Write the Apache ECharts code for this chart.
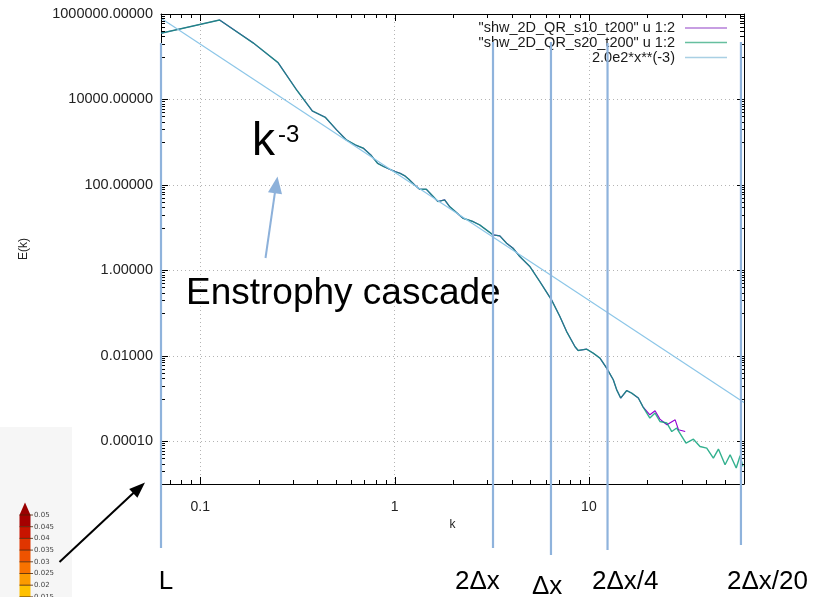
<!DOCTYPE html>
<html><head><meta charset="utf-8">
<script src="https://cdn.jsdelivr.net/npm/echarts@6/dist/echarts.min.js"></script>
<style>html,body{margin:0;padding:0;background:#fff}#c{width:814px;height:597px}</style>
</head><body><div id="c"></div>
<script>
// ---------- data ----------
const kCommon = [0.0628, 0.1257, 0.1885, 0.2513, 0.3142, 0.377, 0.44, 0.503, 0.565, 0.628, 0.691, 0.754, 0.817, 0.88, 0.942, 1.005, 1.068, 1.131, 1.194, 1.268, 1.346, 1.457, 1.672, 1.81, 1.92, 2.25, 2.53, 2.74, 3.21, 3.48, 3.77, 4.07, 4.41, 4.97, 5.59, 6.42, 7.09, 7.68, 8.47, 8.81, 9.73, 10.52, 11.4, 12.34, 13.35, 13.9, 14.57, 15.65, 16.6, 17.96, 18.98];
const eCommon = [3.54e5, 7.24e5, 2.06e5, 7.26e4, 1.64e4, 5.4e3, 3.83e3, 1.94e3, 1130, 863, 721, 503, 321, 268, 233, 205, 187, 162, 131, 100, 79.3, 79, 40.7, 44.6, 31, 16.6, 13.9, 11.6, 6.76, 6.41, 4.32, 3.30, 2.10, 1.23, 0.547, 0.204, 0.083, 0.037, 0.0165, 0.0133, 0.01436, 0.01156, 0.00883, 0.00515, 0.00275, 0.0016, 0.001026, 0.00154, 0.00134, 0.00103, 0.00064];
const kTail10 = [20.6, 21.9, 23.2, 25.2, 27.8, 28.9, 31.3];
const eTail10 = [4.17e-4, 5.17e-4, 3.3e-4, 2.43e-4, 3.18e-4, 1.86e-4, 1.69e-4];
const kTail20 = [20.6, 21.9, 23.2, 25.2, 26.7, 28.3, 31.6, 34.5, 37.3, 40.4, 43.7, 46.4, 50.2, 53.3, 57.3, 60.0, 62.0];
const eTail20 = [3.49e-4, 4.57e-4, 2.9e-4, 2.67e-4, 1.69e-4, 2.04e-4, 9.08e-5, 1.12e-4, 7.55e-5, 6.93e-5, 4.05e-5, 6.56e-5, 2.82e-5, 4.83e-5, 2.36e-5, 4.58e-5, 2.58e-5];
const kRef = [0.0628, 62.83];
const eRef = [8.0e5, 8.1e-4];
const seriesNames = ['"shw_2D_QR_s10_t200" u 1:2', '"shw_2D_QR_s20_t200" u 1:2', '2.0e2*x**(-3)'];
const xMajor = [0.1, 1, 10];
const xMinor = [0.07, 0.08, 0.09, 0.2, 0.3, 0.4, 0.5, 0.6, 0.7, 0.8, 0.9, 2, 3, 4, 5, 6, 7, 8, 9, 20, 30, 40, 50, 60];
const yMajor = [1e-4, 1e-2, 1, 1e2, 1e4, 1e6];
const yMinorFactors = [0.1, 0.2, 0.3, 0.4, 0.5, 0.6, 0.7, 0.8, 0.9];
const annotK = [0.0628, 3.21, 6.38, 12.47, 60.6];
const annotLabels = ['L', '2Δx', 'Δx', '2Δx/4', '2Δx/20'];
const colorbarLabels = ['0.05', '0.045', '0.04', '0.035', '0.03', '0.025', '0.02', '0.015'];

// ---------- build ----------
const FONT = '"Liberation Sans", Arial, sans-serif';
const zip = (a, b) => a.map((v, i) => [v, b[i]]);
const data10 = zip(kCommon, eCommon).concat(zip(kTail10, eTail10));
const data20 = zip(kCommon, eCommon).concat(zip(kTail20, eTail20));

function isIntExp(v) { const e = Math.log10(v); return Math.abs(e - Math.round(e)) < 1e-6 ? Math.round(e) : null; }
function fmtX(v) { const e = isIntExp(v); return e === null ? '' : String(Math.pow(10, e)); }
function fmtY(v) { const e = isIntExp(v); if (e === null || e % 2 !== 0) return ''; return Math.pow(10, e).toFixed(5); }

const chart = echarts.init(document.getElementById('c'), null, { renderer: 'canvas' });
const gridLine = { show: true, lineStyle: { color: '#b4b4b4', width: 1, type: [1, 3] } };
const legendColors = ['#b57ed8', '#66bf9f', '#a9d0e4'];
const legendTops = [20.5, 35, 50];
const GRID = { left: 161, right: 70, top: 14, bottom: 113 };

chart.setOption({
  animation: false,
  backgroundColor: '#fff',
  grid: Object.assign({ containLabel: false }, GRID),
  legend: seriesNames.map((n, i) => ({
    data: [{ name: n, itemStyle: { color: legendColors[i] } }],
    right: 87, top: legendTops[i], orient: 'vertical', align: 'right', icon: 'rect',
    itemWidth: 42, itemHeight: 1.5, padding: 0, selectedMode: false,
    textStyle: { fontSize: 14.5, color: '#1a1a1a', fontFamily: FONT, padding: [0, 5, 0, 0] }
  })),
  xAxis: [{
    type: 'log', logBase: 10, min: 0.0628, max: 62.83, position: 'bottom',
    axisLine: { show: true, onZero: false, lineStyle: { color: '#000', width: 1 } },
    axisTick: { show: false }, minorTick: { show: false }, splitLine: gridLine,
    axisLabel: { formatter: fmtX, margin: 16, fontSize: 14, color: '#222', fontFamily: FONT },
    name: 'k', nameLocation: 'middle', nameGap: 33,
    nameTextStyle: { fontSize: 12, color: '#222', fontFamily: FONT }
  }, {
    type: 'log', logBase: 10, min: 0.0628, max: 62.83, position: 'top',
    axisLine: { show: true, onZero: false, lineStyle: { color: '#000', width: 1 } },
    axisTick: { show: false }, axisLabel: { show: false }, splitLine: { show: false }
  }],
  yAxis: [{
    type: 'log', logBase: 100, min: 1e-5, max: 1e6, position: 'left',
    axisLine: { show: true, onZero: false, lineStyle: { color: '#000', width: 1 } },
    axisTick: { show: false }, minorTick: { show: false }, splitLine: gridLine,
    axisLabel: { formatter: fmtY, margin: 8, fontSize: 14.5, color: '#222', fontFamily: FONT },
    name: 'E(k)', nameLocation: 'middle', nameGap: 131,
    nameTextStyle: { fontSize: 12, color: '#222', fontFamily: FONT }
  }, {
    type: 'log', logBase: 100, min: 1e-5, max: 1e6, position: 'right',
    axisLine: { show: true, onZero: false, lineStyle: { color: '#000', width: 1 } },
    axisTick: { show: false }, axisLabel: { show: false }, splitLine: { show: false }
  }],
  series: [
    { name: seriesNames[0], type: 'line', data: data10, showSymbol: false, symbol: 'none',
      lineStyle: { color: '#9400d3', width: 1.1 }, itemStyle: { color: '#9400d3' }, z: 2 },
    { name: seriesNames[1], type: 'line', data: data20, showSymbol: false, symbol: 'none',
      lineStyle: { color: 'rgba(0,158,115,0.8)', width: 1.4 }, itemStyle: { color: '#009e73' }, z: 3 },
    { name: seriesNames[2], type: 'line', data: zip(kRef, eRef), showSymbol: false, symbol: 'none',
      lineStyle: { color: '#8cc6e8', width: 1.2 }, itemStyle: { color: '#8cc6e8' }, z: 4 }
  ]
});

// ---------- axis tick marks (gnuplot style: inward, mirrored) ----------
const G = [];
const Z = 100;
const gx0 = GRID.left, gx1 = 814 - GRID.right, gy0 = GRID.top, gy1 = 597 - GRID.bottom;
function tick(x1, y1, x2, y2) {
  G.push({ type: 'line', z: 60, silent: true, shape: { x1: x1, y1: y1, x2: x2, y2: y2 }, style: { stroke: '#000', lineWidth: 1 } });
}
function xTick(v, len) {
  const x = Math.round(chart.convertToPixel({ xAxisIndex: 0 }, v)) + 0.5;
  tick(x, gy1, x, gy1 - len);
  tick(x, gy0, x, gy0 + len);
}
function yTick(v, len) {
  const y = Math.round(chart.convertToPixel({ yAxisIndex: 0 }, v)) + 0.5;
  tick(gx0, y, gx0 + len, y);
  tick(gx1, y, gx1 - len, y);
}
xMajor.forEach(v => xTick(v, 7));
xMinor.forEach(v => xTick(v, 4));
yMajor.forEach(M => { yTick(M, 7); yMinorFactors.forEach(f => yTick(M * f, 4)); });

// ---------- annotations ----------
G.push({ type: 'rect', z: Z, shape: { x: 0, y: 427, width: 72, height: 170 }, style: { fill: '#f6f6f6' } });
const cbColors = ['#a50000', '#c81400', '#e03500', '#ee5300', '#f87200', '#fc9a00', '#ffc000', '#ffda00'];
const cbTop = 515, cbStep = 11.7;
G.push({ type: 'polygon', z: Z, shape: { points: [[19.5, cbTop], [25, 502.5], [30.5, cbTop]] }, style: { fill: '#9a0000' } });
colorbarLabels.forEach((lab, i) => {
  const y = cbTop + i * cbStep;
  G.push({ type: 'rect', z: Z, shape: { x: 19.5, y: y, width: 11, height: cbStep }, style: { fill: cbColors[i] } });
});
colorbarLabels.forEach((lab, i) => {
  const y = cbTop + i * cbStep;
  G.push({ type: 'line', z: Z + 1, shape: { x1: 19.5, y1: y, x2: 33, y2: y }, style: { stroke: '#4a2000', lineWidth: 0.8 } });
  G.push({ type: 'text', z: Z + 1, style: { text: lab, x: 34, y: y, font: '7px "DejaVu Sans"', fill: '#444', verticalAlign: 'middle' } });
});
// black arrow
G.push({ type: 'line', z: Z, shape: { x1: 59.5, y1: 562, x2: 135, y2: 491.5 }, style: { stroke: '#000', lineWidth: 2 } });
G.push({ type: 'polygon', z: Z, shape: { points: [[145, 482.5], [137.4, 497.8], [129.2, 489.0]] }, style: { fill: '#000' } });
// blue arrow
G.push({ type: 'line', z: Z, shape: { x1: 265.5, y1: 258, x2: 275, y2: 192 }, style: { stroke: '#8db1da', lineWidth: 2 } });
G.push({ type: 'polygon', z: Z, shape: { points: [[277.5, 176.5], [282, 194.3], [268, 192.3]] }, style: { fill: '#8db1da' } });
// texts
G.push({ type: 'text', z: Z, style: { text: 'k', x: 252, y: 142.4, font: '46px ' + FONT, fill: '#000', verticalAlign: 'middle' } });
G.push({ type: 'text', z: Z, style: { text: '-3', x: 278, y: 135, font: '24px ' + FONT, fill: '#000', verticalAlign: 'middle' } });
G.push({ type: 'text', z: Z, style: { text: 'Enstrophy cascade', x: 186, y: 294, font: '37px ' + FONT, fill: '#000', verticalAlign: 'middle' } });
const labX = [158.7, 455, 532, 592, 727];
const labY = [582, 582, 587, 582, 582];
annotLabels.forEach((t, i) => {
  G.push({ type: 'text', z: Z, style: { text: t, x: labX[i], y: labY[i], font: '26px ' + FONT, fill: '#000', verticalAlign: 'middle' } });
});
// vertical marker lines at k positions
const lineTop = [43, 42, 42, 43, 42];
const lineBot = [548, 548, 555, 550, 545];
annotK.forEach((k, i) => {
  const x = chart.convertToPixel({ xAxisIndex: 0 }, k);
  G.push({ type: 'line', z: Z + 2, shape: { x1: x, y1: lineTop[i], x2: x, y2: lineBot[i] }, style: { stroke: '#8fb3dc', lineWidth: 2.2 } });
});
chart.setOption({ graphic: G });
</script></body></html>
